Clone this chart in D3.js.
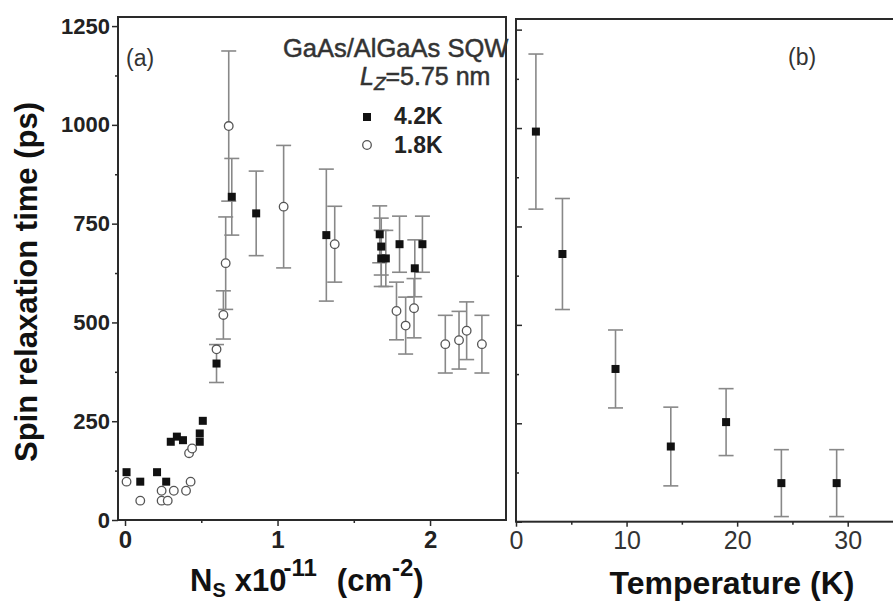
<!DOCTYPE html>
<html>
<head>
<meta charset="utf-8">
<script src="https://cdn.jsdelivr.net/npm/d3@7"></script>
<style>
  body { margin: 0; background: #fff; }
  svg { display: block; font-family: "Liberation Sans", Arial, sans-serif; }
</style>
</head>
<body>
<svg id="chart" width="893" height="603"></svg>
<script>
// (a) spin relaxation time vs sheet density, two temperatures
var dens42 = [0.01, 0.10, 0.21, 0.27, 0.30, 0.34, 0.38, 0.49, 0.49, 0.51, 0.60, 0.70, 0.86, 1.32, 1.67, 1.68, 1.68, 1.71, 1.80, 1.90, 1.95];
var tau42 = [121, 97, 121, 97, 198, 211, 202, 198, 219, 251, 396, 818, 776, 721, 723, 692, 662, 662, 698, 637, 698];
var err42 = [0, 0, 0, 0, 0, 0, 0, 0, 0, 0, 48, 97, 107, 167, 72, 72, 71, 71, 71, 72, 71];

var dens18 = [0.01, 0.10, 0.24, 0.24, 0.28, 0.32, 0.40, 0.43, 0.42, 0.44, 0.60, 0.645, 0.66, 0.68, 1.04, 1.375, 1.78, 1.84, 1.895, 2.10, 2.19, 2.24, 2.34];
var tau18 = [97, 49, 74, 49, 49, 74, 74, 97, 169, 181, 432, 519, 650, 997, 793, 698, 529, 492, 536, 445, 455, 479, 445];
var err18 = [0, 0, 0, 0, 0, 0, 0, 0, 0, 0, 0, 61, 117, 190, 155, 96, 73, 72, 75, 73, 73, 73, 73];

// (b) spin relaxation time vs temperature
var tempK = [1.8, 4.2, 9, 14, 19, 24, 29];
var tauTemp = [991, 680, 388, 191, 253, 98, 98];
var errTemp = [197, 141, 99, 100, 85, 85, 85];

var yTicksMajor = [0, 250, 500, 750, 1000, 1250];
var yTicksMinor = [125, 375, 625, 875, 1125];
var densTicks = [0, 1, 2];
var densMinor = [0.5, 1.5];
var tempTicks = [0, 10, 20, 30];
var tempMinor = [5, 15, 25];

var svg = d3.select("#chart");
var ff = "'Liberation Sans', Arial, sans-serif";
var axisColor = "#2a2a2a";
var barColor = "#888";

// scales
var xA = d3.scaleLinear().domain([-0.046, 2.498]).range([118, 506]);
var yA = d3.scaleLinear().domain([0, 1273]).range([520, 17]);
var xB = d3.scaleLinear().domain([0, 35]).range([516, 903]);
var yB = d3.scaleLinear().domain([0, 1277]).range([521.7, 19]);

function styleAxis(g) {
  g.select(".domain").remove();
  g.selectAll(".tick line").attr("stroke", axisColor).attr("stroke-width", 1.5);
}

// ---- panel (a) axes ----
var gA = svg.append("g");

gA.append("g")
  .attr("transform", "translate(118,0)")
  .call(d3.axisLeft(yA).tickValues(yTicksMajor).tickSize(6).tickPadding(2).tickFormat(d3.format("d")))
  .call(styleAxis)
  .call(g => g.selectAll("text")
    .attr("fill", "#222").attr("font-size", 22).attr("font-weight", "bold")
    .attr("font-family", ff));

gA.append("g")
  .attr("transform", "translate(118,0)")
  .call(d3.axisLeft(yA).tickValues(yTicksMinor).tickSize(3).tickFormat(""))
  .call(styleAxis);

gA.append("g")
  .attr("transform", "translate(0,520)")
  .call(d3.axisBottom(xA).tickValues(densTicks).tickSize(6).tickPadding(5).tickFormat(d3.format("d")))
  .call(styleAxis)
  .call(g => g.selectAll("text")
    .attr("fill", "#222").attr("font-size", 24).attr("font-weight", "bold")
    .attr("font-family", ff));

gA.append("g")
  .attr("transform", "translate(0,520)")
  .call(d3.axisBottom(xA).tickValues(densMinor).tickSize(3).tickFormat(""))
  .call(styleAxis);

gA.append("rect")
  .attr("x", xA.range()[0]).attr("y", yA.range()[1])
  .attr("width", xA.range()[1] - xA.range()[0])
  .attr("height", yA.range()[0] - yA.range()[1])
  .attr("fill", "none").attr("stroke", axisColor).attr("stroke-width", 2);

// ---- panel (b) axes ----
var gB = svg.append("g");

gB.append("g")
  .attr("transform", "translate(516,0)")
  .call(d3.axisRight(yB).tickValues(yTicksMajor).tickSize(6).tickFormat(""))
  .call(styleAxis);

gB.append("g")
  .attr("transform", "translate(516,0)")
  .call(d3.axisRight(yB).tickValues(yTicksMinor).tickSize(3).tickFormat(""))
  .call(styleAxis);

gB.append("g")
  .attr("transform", "translate(0,521.7)")
  .call(d3.axisBottom(xB).tickValues(tempTicks).tickSize(5).tickPadding(5).tickFormat(d3.format("d")))
  .call(styleAxis)
  .call(g => g.selectAll("text")
    .attr("fill", "#333").attr("font-size", 25)
    .attr("font-family", ff));

gB.append("g")
  .attr("transform", "translate(0,521.7)")
  .call(d3.axisBottom(xB).tickValues(tempMinor).tickSize(3).tickFormat(""))
  .call(styleAxis);

gB.append("rect")
  .attr("x", xB.range()[0]).attr("y", yB.range()[1])
  .attr("width", xB.range()[1] - xB.range()[0])
  .attr("height", yB.range()[0] - yB.range()[1])
  .attr("fill", "none").attr("stroke", axisColor).attr("stroke-width", 2);

// ---- error bars ----
function errorBars(g, xs, ys, es, x, y) {
  var capW = 7.5;
  var idx = d3.range(xs.length).filter(i => es[i] > 0);
  var bars = g.append("g").attr("stroke", barColor).attr("stroke-width", 1.6).attr("fill", "none");
  bars.selectAll("line.v").data(idx).join("line")
    .attr("x1", i => x(xs[i])).attr("x2", i => x(xs[i]))
    .attr("y1", i => y(ys[i] - es[i])).attr("y2", i => y(ys[i] + es[i]));
  bars.selectAll("line.top").data(idx).join("line")
    .attr("x1", i => x(xs[i]) - capW).attr("x2", i => x(xs[i]) + capW)
    .attr("y1", i => y(ys[i] + es[i])).attr("y2", i => y(ys[i] + es[i]));
  bars.selectAll("line.bot").data(idx).join("line")
    .attr("x1", i => x(xs[i]) - capW).attr("x2", i => x(xs[i]) + capW)
    .attr("y1", i => y(ys[i] - es[i])).attr("y2", i => y(ys[i] - es[i]));
}

function squares(g, xs, ys, x, y) {
  var s = 8;
  g.append("g").selectAll("rect").data(d3.range(xs.length)).join("rect")
    .attr("x", i => x(xs[i]) - s / 2).attr("y", i => y(ys[i]) - s / 2)
    .attr("width", s).attr("height", s).attr("fill", "#111");
}

function circles(g, xs, ys, x, y) {
  g.append("g").selectAll("circle").data(d3.range(xs.length)).join("circle")
    .attr("cx", i => x(xs[i])).attr("cy", i => y(ys[i])).attr("r", 4.3)
    .attr("fill", "#fff").attr("stroke", "#555").attr("stroke-width", 1.3);
}

errorBars(gA, dens42, tau42, err42, xA, yA);
errorBars(gA, dens18, tau18, err18, xA, yA);
squares(gA, dens42, tau42, xA, yA);
circles(gA, dens18, tau18, xA, yA);

errorBars(gB, tempK, tauTemp, errTemp, xB, yB);
squares(gB, tempK, tauTemp, xB, yB);

// ---- labels ----
svg.append("text").attr("x", 126).attr("y", 66).attr("font-size", 23).attr("fill", "#333")
  .attr("font-family", ff).text("(a)");
svg.append("text").attr("x", 788).attr("y", 65).attr("font-size", 23).attr("fill", "#333")
  .attr("font-family", ff).text("(b)");

svg.append("text").attr("x", 283).attr("y", 57).attr("font-size", 25.5).attr("fill", "#333")
  .attr("stroke", "#333").attr("stroke-width", 0.5)
  .attr("font-family", ff).text("GaAs/AlGaAs SQW");

var lz = svg.append("text").attr("x", 360).attr("y", 85).attr("font-size", 25).attr("fill", "#333")
  .attr("stroke", "#333").attr("stroke-width", 0.5).attr("font-family", ff);
lz.append("tspan").attr("font-style", "italic").text("L");
lz.append("tspan").attr("font-style", "italic").attr("font-size", 19).attr("dy", 5).text("Z");
lz.append("tspan").attr("dy", -5).text("=5.75 nm");

// legend
var legend = svg.append("g");
legend.append("rect").attr("x", 363).attr("y", 113).attr("width", 8).attr("height", 8).attr("fill", "#111");
legend.append("circle").attr("cx", 367).attr("cy", 145).attr("r", 4.3)
  .attr("fill", "#fff").attr("stroke", "#555").attr("stroke-width", 1.3);
legend.append("text").attr("x", 394).attr("y", 124).attr("font-size", 23).attr("font-weight", "bold")
  .attr("fill", "#222").attr("font-family", ff).text("4.2K");
legend.append("text").attr("x", 394).attr("y", 153).attr("font-size", 23).attr("font-weight", "bold")
  .attr("fill", "#222").attr("font-family", ff).text("1.8K");

// axis titles
svg.append("text").attr("transform", "translate(37,282) rotate(-90)")
  .attr("text-anchor", "middle").attr("font-size", 31).attr("font-weight", "bold")
  .attr("fill", "#111").attr("font-family", ff).text("Spin relaxation time (ps)");

var tx = svg.append("text").attr("x", 190).attr("y", 591).attr("font-size", 31).attr("font-weight", "bold")
  .attr("fill", "#111").attr("font-family", ff);
tx.append("tspan").text("N");
tx.append("tspan").attr("font-size", 20).attr("dy", 6).text("S");
tx.append("tspan").attr("dy", -6).attr("dx", 9).text("x10");
tx.append("tspan").attr("font-size", 24).attr("dy", -15).attr("dx", -3).text("-11");
tx.append("tspan").attr("dy", 15).attr("dx", 20).text("(cm");
tx.append("tspan").attr("font-size", 24).attr("dy", -15).text("-2");
tx.append("tspan").attr("dy", 15).text(")");

svg.append("text").attr("x", 732).attr("y", 594).attr("text-anchor", "middle")
  .attr("font-size", 32).attr("font-weight", "bold").attr("fill", "#111")
  .attr("font-family", ff).text("Temperature (K)");
</script>
</body>
</html>
